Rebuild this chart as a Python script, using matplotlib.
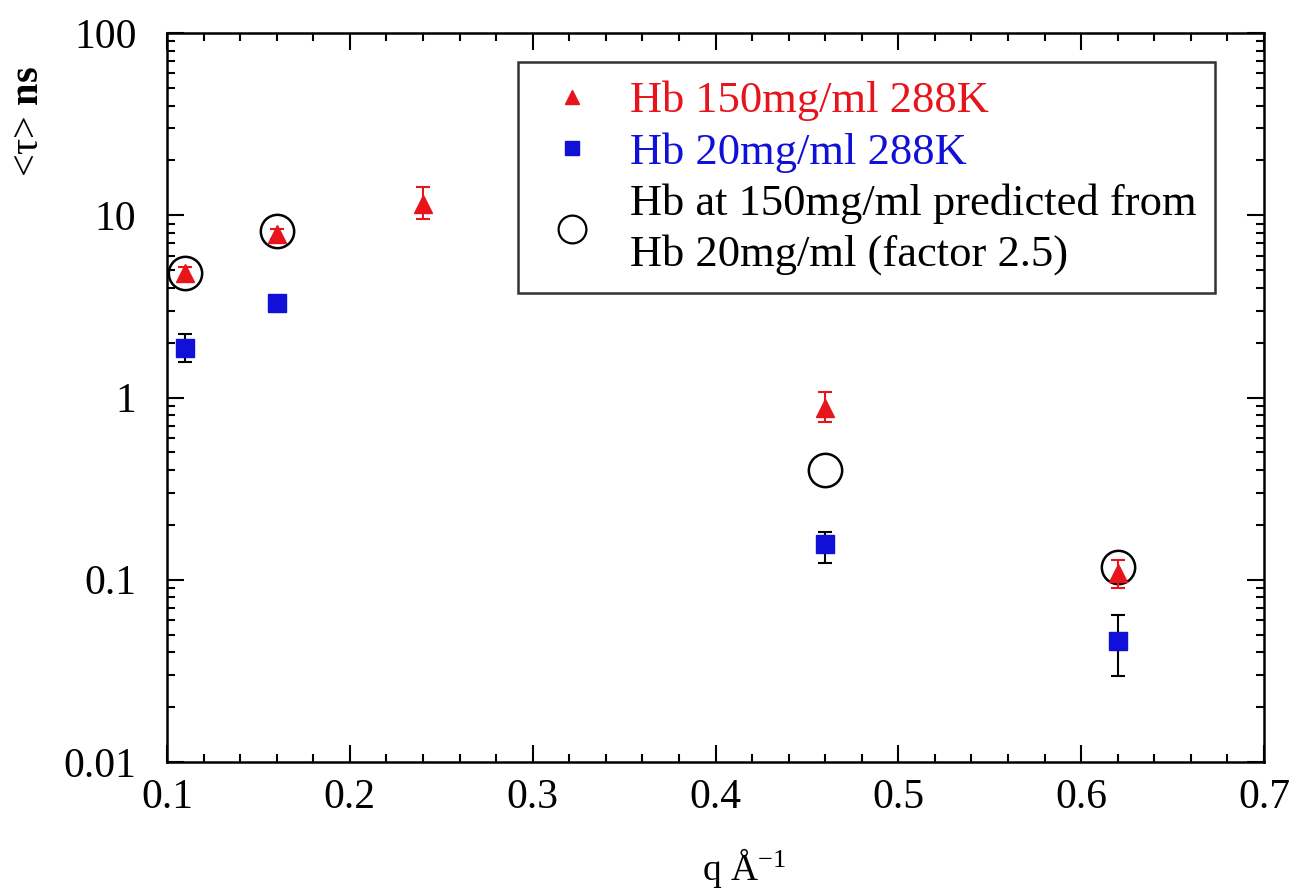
import numpy as np
import matplotlib
matplotlib.use('Agg')
import matplotlib.pyplot as plt
from matplotlib.lines import Line2D
from matplotlib.ticker import MultipleLocator, LogLocator, NullFormatter, FixedLocator

plt.rcParams['font.family'] = ['Liberation Serif', 'DejaVu Serif']
plt.rcParams['mathtext.fontset'] = 'custom'
plt.rcParams['mathtext.rm'] = 'Liberation Serif'
plt.rcParams['mathtext.bf'] = 'Liberation Serif:bold'
plt.rcParams['mathtext.default'] = 'regular'

# Hb 150 mg/ml, 288 K
q_150 = [0.11, 0.16, 0.24, 0.46, 0.62]
tau_150 = [4.8, 7.9, 11.6, 0.88, 0.109]
err_150_lo = [0.4, 0.5, 2.1, 0.15, 0.019]
err_150_hi = [0.4, 0.5, 2.7, 0.19, 0.020]

# Hb 20 mg/ml, 288 K
q_20 = [0.11, 0.16, 0.46, 0.62]
tau_20 = [1.88, 3.32, 0.158, 0.046]
err_20_lo = [0.32, 0.15, 0.034, 0.0165]
err_20_hi = [0.34, 0.15, 0.024, 0.0177]

# predicted 150 mg/ml from 20 mg/ml (factor 2.5)
q_pred = [0.11, 0.16, 0.46, 0.62]
tau_pred = [4.8, 8.2, 0.40, 0.117]

labels = ['Hb 150mg/ml 288K', 'Hb 20mg/ml 288K',
          'Hb at 150mg/ml predicted from\nHb 20mg/ml (factor 2.5)']
x_ticks = [0.1, 0.2, 0.3, 0.4, 0.5, 0.6, 0.7]
y_ticks = [0.01, 0.1, 1, 10, 100]
y_ticklabels = ['0.01', '0.1', '1', '10', '100']

red = '#e8141b'
blue = '#1010d8'

fig = plt.figure(figsize=(12.93, 8.91), dpi=100)
ax = fig.add_axes([167 / 1293, 1 - 762 / 891, 1097 / 1293, 729 / 891])

ax.plot(q_pred, tau_pred, 'o', ms=24, mfc='none', mec='black', mew=1.8,
        linestyle='none', zorder=2)
ax.errorbar(q_150, tau_150, yerr=[err_150_lo, err_150_hi], fmt='^', ms=13,
            color=red, ecolor=red, elinewidth=1.5, capsize=5,
            capthick=1.5, zorder=3)
ax.errorbar(q_20, tau_20, yerr=[err_20_lo, err_20_hi], fmt='s', ms=13,
            color=blue, ecolor='black', elinewidth=1.5, capsize=5,
            capthick=1.5, zorder=3)

ax.set_yscale('log')
ax.set_xlim(0.1, 0.7)
ax.set_ylim(0.01, 100)
ax.xaxis.set_major_locator(FixedLocator(x_ticks))
ax.set_xticklabels(['%g' % v for v in x_ticks])
ax.xaxis.set_minor_locator(MultipleLocator(0.02))
ax.yaxis.set_major_locator(FixedLocator(y_ticks))
ax.set_yticklabels(y_ticklabels)
ax.yaxis.set_minor_locator(LogLocator(base=10, subs=np.arange(2, 10)))
ax.yaxis.set_minor_formatter(NullFormatter())

ax.tick_params(which='both', direction='in', top=True, right=True, width=1.5)
ax.tick_params(which='major', length=12, labelsize=30)
ax.tick_params(which='minor', length=6)
ax.tick_params(axis='x', which='major', pad=12)
ax.tick_params(axis='y', which='major', pad=22)
for sp in ax.spines.values():
    sp.set_linewidth(1.8)

fig.text(744 / 1293, 1 - 880 / 891, r'q Å$^{-1}$', fontsize=27,
         ha='center', va='baseline')
fig.text(28 / 1293, 1 - 122 / 891, r'<τ> $\mathbf{ns}$', fontsize=29,
         rotation=90, ha='center', va='center')

# legend shows markers only
handles = [
    Line2D([], [], marker='^', ms=10, color=red, linestyle='none'),
    Line2D([], [], marker='s', ms=10, color=blue, linestyle='none'),
    Line2D([], [], marker='o', ms=20, mfc='none', mec='black', mew=1.6,
           linestyle='none'),
]
leg = ax.legend(handles, labels, loc='upper left',
                bbox_to_anchor=((518 - 167) / 1097, (762 - 62) / 729),
                borderaxespad=0, fontsize=32, frameon=True, fancybox=False,
                edgecolor='black', handlelength=1.6, handletextpad=0.5,
                labelspacing=0.25, borderpad=0.42)
leg.get_frame().set_linewidth(1.8)
for txt, c in zip(leg.get_texts(), [red, blue, 'black']):
    txt.set_color(c)
    txt.set_linespacing(1.3)

fig.savefig('out.png', dpi=100)
